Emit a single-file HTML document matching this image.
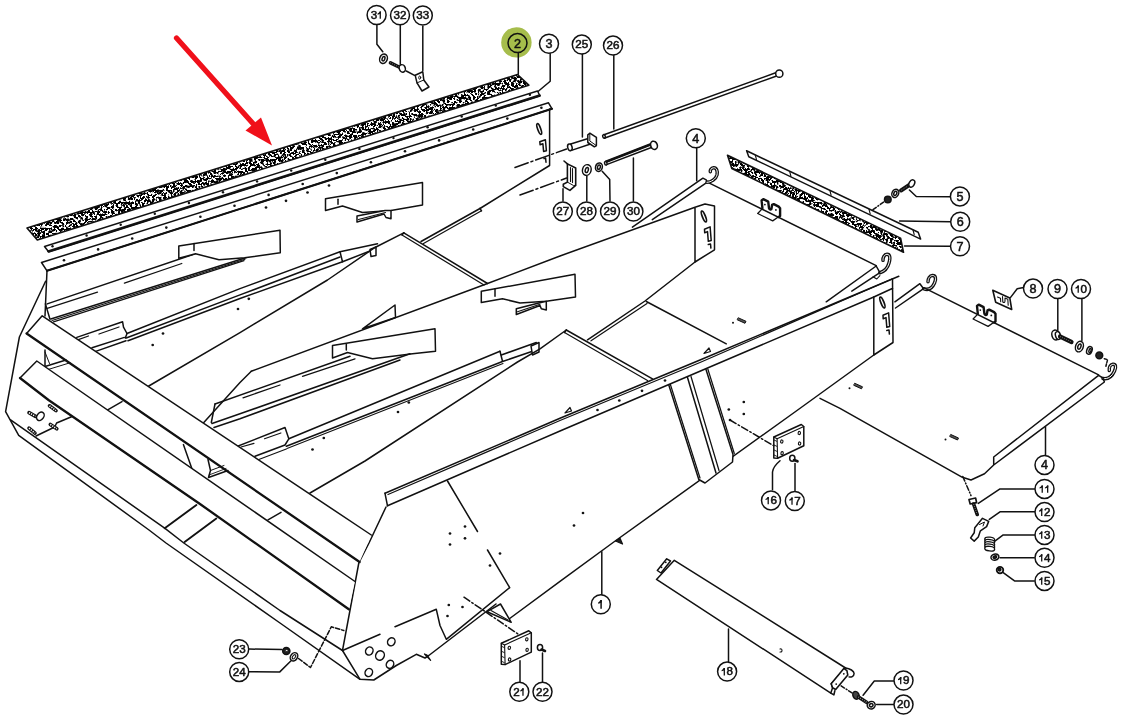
<!DOCTYPE html>
<html><head><meta charset="utf-8"><title>Parts diagram</title>
<style>
html,body{margin:0;padding:0;background:#fff;}
body{width:1121px;height:724px;overflow:hidden;font-family:"Liberation Sans",sans-serif;}
svg{display:block}
svg text{font-family:"Liberation Sans",sans-serif;fill:#111;stroke:#111;}
</style></head><body>
<svg width="1121" height="724" viewBox="0 0 1121 724">
<defs>
<filter id="spk" x="0" y="0" width="100%" height="100%">
<feTurbulence type="fractalNoise" baseFrequency="0.42" numOctaves="2" seed="7" result="n"/>
<feColorMatrix in="n" type="matrix" values="0 0 0 0 0  0 0 0 0 0  0 0 0 0 0  14 0 0 0 -6.25" result="m"/>
<feGaussianBlur in="m" stdDeviation="0.45" result="mb"/>
<feComposite in="mb" in2="SourceGraphic" operator="in"/>
</filter>
</defs>
<rect width="1121" height="724" fill="#fff"/>

<circle cx="516.4" cy="42.4" r="15.2" fill="#a6bd4c"/>
<g>
<line x1="176.5" y1="38" x2="256" y2="127" stroke="#f0101a" stroke-width="5.2" stroke-linecap="round"/>
<polygon points="272,145.5 245.5,130.5 261,117.5" fill="#f0101a"/>
</g>
<polygon points="27,228 517.5,74.5 528.8,85.2 37.3,240" fill="#222" filter="url(#spk)"/>
<polygon points="727.5,155.3 900.6,238.1 903.5,252.3 731.8,168.5" fill="#222" filter="url(#spk)"/>

<g fill="none" stroke="#111" stroke-width="1.5" stroke-linecap="round" stroke-linejoin="round">
<polygon points="27.0,228.0 517.5,74.5 528.8,85.2 37.3,240.0" fill="none" stroke-width="1.6" />
<polygon points="44.5,246.5 537.5,91.0 540.0,96.0 48.8,252.0" fill="none" />
<polyline points="48.3,251.3 539.7,95.4" stroke-width="2.3" />
<polygon points="41.5,262.5 548.5,102.8 552.0,108.8 47.0,270.8" fill="none" />
<polyline points="47.0,270.8 552.0,108.8" stroke-width="2.1" />
<circle cx="64.0" cy="260.3" r="1.3" fill="#111" stroke="none"/>
<circle cx="98.1" cy="249.4" r="1.3" fill="#111" stroke="none"/>
<circle cx="132.2" cy="238.5" r="1.3" fill="#111" stroke="none"/>
<circle cx="166.3" cy="227.6" r="1.3" fill="#111" stroke="none"/>
<circle cx="200.4" cy="216.7" r="1.3" fill="#111" stroke="none"/>
<circle cx="234.5" cy="205.8" r="1.3" fill="#111" stroke="none"/>
<circle cx="268.6" cy="194.9" r="1.3" fill="#111" stroke="none"/>
<circle cx="302.7" cy="184.0" r="1.3" fill="#111" stroke="none"/>
<circle cx="336.8" cy="173.1" r="1.3" fill="#111" stroke="none"/>
<circle cx="370.9" cy="162.2" r="1.3" fill="#111" stroke="none"/>
<circle cx="405.0" cy="151.3" r="1.3" fill="#111" stroke="none"/>
<circle cx="439.1" cy="140.4" r="1.3" fill="#111" stroke="none"/>
<circle cx="473.2" cy="129.5" r="1.3" fill="#111" stroke="none"/>
<circle cx="507.3" cy="118.6" r="1.3" fill="#111" stroke="none"/>
<circle cx="541.4" cy="107.7" r="1.3" fill="#111" stroke="none"/>
<circle cx="52.5" cy="246.3" r="1.2" fill="#111" stroke="none"/>
<circle cx="86.6" cy="235.5" r="1.2" fill="#111" stroke="none"/>
<circle cx="120.7" cy="224.7" r="1.2" fill="#111" stroke="none"/>
<circle cx="154.8" cy="213.8" r="1.2" fill="#111" stroke="none"/>
<circle cx="188.9" cy="203.0" r="1.2" fill="#111" stroke="none"/>
<circle cx="223.0" cy="192.2" r="1.2" fill="#111" stroke="none"/>
<circle cx="257.1" cy="181.4" r="1.2" fill="#111" stroke="none"/>
<circle cx="291.2" cy="170.6" r="1.2" fill="#111" stroke="none"/>
<circle cx="325.3" cy="159.7" r="1.2" fill="#111" stroke="none"/>
<circle cx="359.4" cy="148.9" r="1.2" fill="#111" stroke="none"/>
<circle cx="393.5" cy="138.1" r="1.2" fill="#111" stroke="none"/>
<circle cx="427.6" cy="127.3" r="1.2" fill="#111" stroke="none"/>
<circle cx="461.7" cy="116.5" r="1.2" fill="#111" stroke="none"/>
<circle cx="495.8" cy="105.6" r="1.2" fill="#111" stroke="none"/>
<circle cx="529.9" cy="94.8" r="1.2" fill="#111" stroke="none"/>
<polyline points="549.6,109.0 549.6,165.5 480.0,208.5" />
<circle cx="266.0" cy="207.5" r="1.35" fill="#111" stroke="none"/>
<circle cx="286.0" cy="200.8" r="1.35" fill="#111" stroke="none"/>
<circle cx="307.5" cy="192.5" r="1.35" fill="#111" stroke="none"/>
<circle cx="329.0" cy="185.5" r="1.35" fill="#111" stroke="none"/>
<ellipse cx="539.2" cy="129.0" rx="1.5" ry="5.6" transform="rotate(-20 539.2 129.0)" fill="none" stroke-width="1.7"/>
<path d="M539.8,141.8 l5.6,-2 l1,11 l-2.8,0.6 l-0.7,-7.6 l-2.8,1z" fill="none" stroke-width="1.5" />
<path d="M544,158.5 l1.6,-0.4 l0.4,4.2" fill="none" stroke-width="1.5" />
<polyline points="47.0,270.5 45.0,316.0" />
<polyline points="45.4,303.9 49.9,319.0" />
<polyline points="47.2,303.9 194.4,254.0" />
<polyline points="47.2,308.3 97.5,292.2" stroke-width="1.25" />
<polyline points="124.4,283.2 181.8,263.5" stroke-width="1.25" />
<polyline points="50.8,319.0 246.5,257.5" />
<polyline points="53.5,321.8 244.0,260.6" stroke-width="1.25" />
<polyline points="52.0,320.4 245.0,259.2" stroke-width="1.1" />
<polygon points="178.8,246.0 280.0,230.2 280.3,252.8 244.6,257.7 219.0,259.7 195.5,253.8 178.8,258.3" fill="#fff" />
<polyline points="194.0,243.5 194.0,250.5" />
<polygon points="325.5,198.8 422.5,182.5 422.5,205.0 391.0,210.5 362.5,212.5 342.5,206.0 325.5,210.5" fill="#fff" />
<polyline points="338.0,199.3 338.0,204.3" />
<polygon points="357.0,216.0 385.0,210.5 391.0,210.5 391.0,218.8 386.0,217.5 384.0,214.0 357.0,222.0" fill="#fff" />
<polyline points="358.5,219.5 385.5,212.5" stroke-width="1.15" />
<polyline points="76.8,337.4 122.6,321.8 123.5,327.2 127.0,333.5 125.3,338.0" />
<polyline points="77.7,339.8 88.5,336.0" stroke-width="1.25" />
<polyline points="99.0,334.0 119.0,327.0" stroke-width="1.25" />
<polyline points="92.0,347.8 124.4,337.4" />
<polyline points="95.7,351.4 126.0,340.7" />
<polyline points="127.0,333.5 240.0,288.6 340.0,251.8 377.5,243.8" />
<polyline points="126.2,338.0 240.0,294.9 340.0,257.0" />
<polyline points="128.0,340.7 240.0,298.5 342.5,261.8" />
<polyline points="340.0,251.8 342.5,261.8 372.5,250.0" />
<polygon points="370.0,249.5 376.0,247.0 376.0,255.5 371.0,256.5" fill="#fff" />
<circle cx="163.0" cy="333.5" r="1.35" fill="#111" stroke="none"/>
<circle cx="152.7" cy="345.0" r="1.35" fill="#111" stroke="none"/>
<circle cx="248.8" cy="298.8" r="1.35" fill="#111" stroke="none"/>
<circle cx="238.0" cy="309.0" r="1.35" fill="#111" stroke="none"/>
<polyline points="148.8,386.0 240.0,332.6 327.5,280.0 375.0,247.5 403.8,232.8" />
<polyline points="403.8,232.8 487.5,283.5" />
<polyline points="402.0,235.0 484.0,285.0" stroke-width="1.25" />
<polyline points="402.0,235.0 403.8,232.8" />
<polyline points="421.0,241.5 480.0,208.5" />
<polyline points="423.5,243.5 481.5,210.8" stroke-width="1.25" />
<polyline points="480.0,208.5 481.5,210.8" />
<polyline points="251.3,371.3 240.0,382.5 203.8,422.5" />
<polyline points="251.3,371.3 487.5,283.5 560.0,256.0 695.0,207.3 705.0,204.0 714.5,206.0 714.5,249.8 695.0,262.0 695.0,207.3" />
<polyline points="695.0,262.0 645.0,301.0 587.5,339.8" />
<polyline points="647.0,303.5 591.0,340.8" stroke-width="1.25" />
<polygon points="362.5,328.8 395.0,305.0 395.5,317.5" fill="none" />
<polygon points="332.5,345.5 435.0,328.8 435.5,351.3 412.5,353.8 372.5,358.8 347.5,352.5 332.5,358.0" fill="#fff" />
<polyline points="346.3,344.5 346.3,350.0" />
<polygon points="481.3,291.3 575.0,274.3 575.5,297.0 546.3,301.3 520.0,303.0 502.5,298.8 481.3,302.5" fill="#fff" />
<polyline points="495.0,288.8 495.0,296.3" />
<polygon points="516.3,308.8 538.8,303.0 546.3,301.3 546.3,310.0 541.3,308.8 540.0,305.5 516.3,314.5" fill="#fff" />
<polyline points="517.5,311.8 540.0,304.3" stroke-width="1.15" />
<polyline points="215.0,404.0 350.0,356.3" />
<polyline points="302.5,376.3 355.0,358.8" stroke-width="1.25" />
<polyline points="243.0,397.8 280.0,385.0" stroke-width="1.25" />
<polyline points="212.0,423.5 240.0,413.8 410.0,353.8" />
<polyline points="214.0,427.5 240.0,418.8 400.0,360.0" />
<polyline points="211.3,422.5 215.0,404.0" />
<polyline points="228.0,450.0 285.0,427.5 288.8,438.8 285.0,445.0 255.0,456.3" />
<polyline points="288.8,438.8 500.0,351.3" />
<polyline points="501.3,355.0 536.3,342.5" />
<polyline points="286.3,446.3 502.5,361.5 532.5,351.3" />
<polyline points="287.0,448.6 503.0,363.6" stroke-width="1.1" />
<polyline points="257.5,460.0 286.3,449.0" stroke-width="1.2" />
<polyline points="241.0,447.0 254.0,443.4" stroke-width="1.1" />
<polyline points="264.5,438.8 280.9,432.9" stroke-width="1.1" />
<polyline points="500.0,351.3 502.5,361.3" />
<polygon points="531.0,346.0 539.0,342.5 539.0,352.0 532.5,355.0" fill="#fff" />
<circle cx="408.8" cy="402.5" r="1.35" fill="#111" stroke="none"/>
<circle cx="398.0" cy="412.0" r="1.35" fill="#111" stroke="none"/>
<circle cx="323.8" cy="438.0" r="1.35" fill="#111" stroke="none"/>
<circle cx="312.5" cy="449.5" r="1.35" fill="#111" stroke="none"/>
<polyline points="310.0,493.0 365.0,461.0 517.5,362.0 540.0,348.8 566.3,330.0" />
<polyline points="566.3,330.0 652.5,378.8" />
<polyline points="564.5,332.5 647.5,380.5" stroke-width="1.25" />
<polyline points="564.5,332.5 566.3,330.0" />
<polyline points="646.3,301.5 726.3,343.8" />
<polyline points="385.0,493.3 560.0,418.3 700.0,360.0 898.8,276.3" />
<polyline points="388.0,494.5 560.0,420.5 700.0,362.5 892.5,278.8" stroke-width="1.25" />
<polyline points="387.5,505.8 560.0,431.0 873.8,297.0" />
<polyline points="385.0,493.3 387.5,505.8" />
<polyline points="892.5,278.8 893.0,342.5 873.8,355.0 873.8,297.0 892.8,288.2" />
<polyline points="873.8,355.0 796.3,411.0 613.8,542.0 560.0,581.3 509.7,618.5" />
<circle cx="597.5" cy="410.0" r="1.35" fill="#111" stroke="none"/>
<circle cx="619.3" cy="400.5" r="1.35" fill="#111" stroke="none"/>
<circle cx="642.0" cy="390.8" r="1.35" fill="#111" stroke="none"/>
<circle cx="665.0" cy="380.5" r="1.35" fill="#111" stroke="none"/>
<polygon points="565.0,413.0 570.0,407.5 571.5,411.0" fill="none" stroke-width="1.2" />
<polygon points="704.0,353.5 709.0,348.0 710.5,351.5" fill="none" stroke-width="1.2" />
<polygon points="615.5,541.0 622.5,544.0 620.0,538.3" fill="#222" stroke-width="1.25" />
<polygon points="669.5,386.0 698.8,479.5 705.0,483.0 732.5,462.0 733.0,454.5 706.5,371.0" fill="#fff" stroke="none"/>
<polyline points="668.8,385.0 698.8,479.5 705.0,483.0 732.5,462.0 733.0,454.5 706.0,369.5" />
<polyline points="670.3,384.3 700.0,478.0" stroke-width="1.25" />
<polyline points="687.5,377.5 716.0,473.0" />
<polyline points="691.0,376.5 719.0,470.5" stroke-width="1.25" />
<polyline points="707.8,369.0 734.3,453.5" stroke-width="1.25" />
<polyline points="386.0,507.0 369.0,543.0 358.8,563.0 342.5,650.5 360.0,679.3 373.8,680.0 396.3,665.5 416.3,654.3 425.0,658.0 428.8,655.5 496.0,604.0" />
<polyline points="447.5,481.0 477.5,531.5" />
<polyline points="487.5,550.0 509.7,587.6 446.3,639.3 440.0,625.5 436.3,609.3 395.0,626.8" />
<polyline points="342.5,650.5 380.0,634.3" />
<polygon points="487.0,611.7 500.5,604.0 511.2,622.3" fill="none" />
<polyline points="491.0,610.5 508.0,620.0" stroke-width="1.1" />
<polygon points="424.5,654.0 430.6,660.3 427.0,655.0" fill="#111" stroke-width="1.25" />
<circle cx="450.0" cy="533.5" r="1.35" fill="#111" stroke="none"/>
<circle cx="465.0" cy="526.5" r="1.35" fill="#111" stroke="none"/>
<circle cx="465.0" cy="538.3" r="1.35" fill="#111" stroke="none"/>
<circle cx="450.0" cy="544.5" r="1.35" fill="#111" stroke="none"/>
<circle cx="728.8" cy="409.5" r="1.35" fill="#111" stroke="none"/>
<circle cx="743.8" cy="402.0" r="1.35" fill="#111" stroke="none"/>
<circle cx="743.8" cy="414.0" r="1.35" fill="#111" stroke="none"/>
<circle cx="730.0" cy="420.0" r="1.35" fill="#111" stroke="none"/>
<circle cx="448.8" cy="605.0" r="1.35" fill="#111" stroke="none"/>
<circle cx="447.5" cy="616.0" r="1.35" fill="#111" stroke="none"/>
<circle cx="462.5" cy="607.0" r="1.35" fill="#111" stroke="none"/>
<circle cx="490.0" cy="565.5" r="1.35" fill="#111" stroke="none"/>
<circle cx="500.0" cy="553.5" r="1.35" fill="#111" stroke="none"/>
<circle cx="583.0" cy="513.0" r="1.35" fill="#111" stroke="none"/>
<circle cx="574.0" cy="525.5" r="1.35" fill="#111" stroke="none"/>
<ellipse cx="369.3" cy="651.0" rx="3.6" ry="4.14" transform="rotate(30 369.3 651.0)" fill="none"/>
<ellipse cx="391.3" cy="641.8" rx="3.6" ry="4.14" transform="rotate(30 391.3 641.8)" fill="none"/>
<ellipse cx="390.0" cy="664.3" rx="3.6" ry="4.14" transform="rotate(30 390.0 664.3)" fill="none"/>
<ellipse cx="368.8" cy="672.5" rx="3.6" ry="4.14" transform="rotate(30 368.8 672.5)" fill="none"/>
<ellipse cx="380.0" cy="655.5" rx="4.2" ry="4.83" transform="rotate(30 380.0 655.5)" fill="none"/>
<polygon points="42.2,315.8 371.3,535.0 359.6,562.0 26.6,333.5" fill="#fff" stroke="none"/>
<polyline points="26.6,333.5 42.2,315.8 371.3,535.0" />
<polyline points="45.0,366.5 66.0,360.0" />
<polyline points="46.5,370.0 70.0,362.8" stroke-width="1" />
<polyline points="45.0,350.0 45.0,368.5" />
<polyline points="45.0,352.0 49.5,363.5" stroke-width="1" />
<polyline points="183.4,444.6 192.0,469.0" />
<polyline points="208.0,459.5 210.5,470.5 208.5,477.5 228.0,470.5" />
<polyline points="210.5,470.5 224.0,465.5" stroke-width="1" />
<polyline points="209.0,475.0 226.0,468.5" stroke-width="0.9" />
<polyline points="107.7,409.8 122.0,401.6" />
<polyline points="268.0,519.8 281.0,512.3" />
<polyline points="26.6,333.5 359.6,562.0" stroke-width="2.3" />
<polygon points="36.8,361.0 355.0,581.5 348.8,609.3 20.0,378.0" fill="#fff" stroke="none"/>
<polyline points="20.0,378.0 36.8,361.0 355.0,581.5" />
<polyline points="20.0,378.0 48.5,400.0 200.0,504.0 348.8,609.3" stroke-width="2.3" />
<polyline points="45.6,281.2 19.4,337.0 5.6,411.7 18.7,435.3 149.0,530.0 166.0,543.0 280.0,623.0 360.0,679.3" />
<polyline points="10.6,419.8 165.0,528.4 183.8,543.0 280.0,610.5 342.5,650.5" />
<polyline points="36.0,436.0 54.7,427.0 56.6,423.0 71.5,416.7" />
<polyline points="164.7,528.2 196.4,505.0" stroke-width="1.9" />
<polyline points="184.6,542.0 216.3,518.6" stroke-width="1.9" />
<polyline points="49.5,405.8 56.0,410.6" stroke-width="3.6" />
<polyline points="49.5,405.8 56.0,410.6" stroke-width="1.6" stroke="#fff" stroke-dasharray="1.2 1.2" stroke-linecap="butt"/>
<polyline points="29.0,412.6 35.5,416.4" stroke-width="3.6" />
<polyline points="29.0,412.6 35.5,416.4" stroke-width="1.6" stroke="#fff" stroke-dasharray="1.2 1.2" stroke-linecap="butt"/>
<polyline points="50.3,424.4 56.8,428.8" stroke-width="3.6" />
<polyline points="50.3,424.4 56.8,428.8" stroke-width="1.6" stroke="#fff" stroke-dasharray="1.2 1.2" stroke-linecap="butt"/>
<polyline points="29.0,428.2 35.0,433.2" stroke-width="3.6" />
<polyline points="29.0,428.2 35.0,433.2" stroke-width="1.6" stroke="#fff" stroke-dasharray="1.2 1.2" stroke-linecap="butt"/>
<ellipse cx="40.4" cy="416.3" rx="3.3" ry="4.6" transform="rotate(35 40.4 416.3)" fill="#fff"/>
<polyline points="632.4,227.1 702.9,178.2 706.2,179.8 707.0,182.3 652.3,219.6" />
<polyline points="707.9,182.3 876.2,265.6" />
<path d="M707,182.3 C711,182.3 716,179 717,174.9 C717.8,171 716.5,167.5 713.5,167.8 C711.2,168 710,170 710.3,171.8" fill="none" stroke-width="3.5" stroke="#111"/>
<path d="M707,182.3 C711,182.3 716,179 717,174.9 C717.8,171 716.5,167.5 713.5,167.8 C711.2,168 710,170 710.3,171.8" fill="none" stroke-width="1.0" stroke="#fff"/>
<path d="M879.9,272.7 C884,271.5 887.5,268.5 889,263 C890.5,258 890,254.2 887,254.3 C884.3,254.4 882.8,257.5 883,260.3" fill="none" stroke-width="3.5" stroke="#111"/>
<path d="M879.9,272.7 C884,271.5 887.5,268.5 889,263 C890.5,258 890,254.2 887,254.3 C884.3,254.4 882.8,257.5 883,260.3" fill="none" stroke-width="1.0" stroke="#fff"/>
<path d="M923.6,288.7 C928,290.5 932,288.5 934.5,283 C936.5,278.5 935.5,275.3 932.4,275.5 C929.8,275.7 928,278.5 928,281.8" fill="none" stroke-width="3.5" stroke="#111"/>
<path d="M923.6,288.7 C928,290.5 932,288.5 934.5,283 C936.5,278.5 935.5,275.3 932.4,275.5 C929.8,275.7 928,278.5 928,281.8" fill="none" stroke-width="1.0" stroke="#fff"/>
<path d="M1103,378.5 C1108,379.5 1112,376.5 1114.5,371 C1116.5,366.5 1115.5,364 1112.8,364.3 C1110.2,364.6 1109,367.5 1109.3,370.5" fill="none" stroke-width="3.5" stroke="#111"/>
<path d="M1103,378.5 C1108,379.5 1112,376.5 1114.5,371 C1116.5,366.5 1115.5,364 1112.8,364.3 C1110.2,364.6 1109,367.5 1109.3,370.5" fill="none" stroke-width="1.0" stroke="#fff"/>
<polyline points="826.2,301.8 876.2,266.0 879.9,272.7 851.8,291.2" />
<polyline points="873.0,276.8 876.8,279.0 879.9,275.6" stroke-width="1.1" />
<path d="M762.4,208.6 l-4.7,4.9 l15,7.4 l5.5,-3.9" fill="none" stroke-width="1.3" />
<path d="M762.4,208.2 L761.6,200.5 L763.3,199.1 L768.2,201.6 L769.0,208.1 Q770.1,210.3 771.4,209.1 L772.1,204.9 L773.8,204.1 L778.7,206.6 L780.1,208.2 L780.1,216.0 L778.7,217.0" fill="none" stroke-width="2.4" />
<circle cx="764.9" cy="204.6" r="0.9" fill="#111" stroke="none"/>
<circle cx="775.9" cy="209.9" r="0.9" fill="#111" stroke="none"/>
<path d="M977.8,314.1 l-4.7,4.9 l15,7.4 l5.5,-3.9" fill="none" stroke-width="1.3" />
<path d="M977.8,313.7 L977.0,306.0 L978.7,304.6 L983.6,307.1 L984.4,313.6 Q985.5,315.8 986.8,314.6 L987.5,310.4 L989.2,309.6 L994.1,312.1 L995.5,313.7 L995.5,321.5 L994.1,322.5" fill="none" stroke-width="2.4" />
<circle cx="980.3" cy="310.1" r="0.9" fill="#111" stroke="none"/>
<circle cx="991.3" cy="315.4" r="0.9" fill="#111" stroke="none"/>
<polygon points="738.5,317.9 746.0,321.3 745.0,323.3 737.5,319.9" fill="#555" stroke-width="1.0" />
<circle cx="733.0" cy="322.7" r="1.0" fill="#111" stroke="none"/>
<polygon points="855.0,383.4 862.5,386.8 861.5,388.8 854.0,385.4" fill="#555" stroke-width="1.0" />
<circle cx="849.5" cy="388.2" r="1.0" fill="#111" stroke="none"/>
<polygon points="951.0,434.6 958.5,438.0 957.5,440.0 950.0,436.6" fill="#555" stroke-width="1.0" />
<circle cx="945.5" cy="439.4" r="1.0" fill="#111" stroke="none"/>
<ellipse cx="703.9" cy="216.5" rx="1.5" ry="5.8" transform="rotate(-22 703.9 216.5)" fill="none" stroke-width="1.7"/>
<path d="M704.5,229.3 l5.6,-2.4 l1.1,13.6 l-2.9,0.7 l-0.8,-9.6 l-2.8,1.1z" fill="none" stroke-width="1.5" />
<path d="M708.3,244.5 l2.2,-0.6 l0.4,4.2" fill="none" stroke-width="1.5" />
<ellipse cx="882.4" cy="302.5" rx="1.5" ry="5.8" transform="rotate(-22 882.4 302.5)" fill="none" stroke-width="1.7"/>
<path d="M883.0,315.3 l5.6,-2.4 l1.1,13.6 l-2.9,0.7 l-0.8,-9.6 l-2.8,1.1z" fill="none" stroke-width="1.5" />
<path d="M886.8,330.5 l2.2,-0.6 l0.4,4.2" fill="none" stroke-width="1.5" />
<polygon points="746.6,150.8 918.2,232.2 920.6,239.1 748.8,156.7" fill="#fff" />
<polyline points="755.3,155.2 756.5,159.7" stroke-width="1.1" />
<polyline points="789.7,171.6 790.9,176.1" stroke-width="1.1" />
<polyline points="829.9,190.7 831.1,195.2" stroke-width="1.1" />
<polyline points="869.0,209.3 870.2,213.8" stroke-width="1.1" />
<polyline points="913.0,230.0 914.2,234.5" stroke-width="1.1" />
<polygon points="727.5,155.3 900.6,238.1 903.5,252.3 731.8,168.5" fill="none" stroke-width="1.6" />
<polyline points="873.0,209.7 883.9,201.8" stroke-dasharray="4 2 1 2"/>
<circle cx="887.8" cy="199.5" r="3.3" fill="#222"/>
<ellipse cx="895.3" cy="193.4" rx="3.3" ry="4.3" transform="rotate(25 895.3 193.4)" fill="none"/>
<ellipse cx="895.3" cy="193.4" rx="1.4" ry="2.2" transform="rotate(25 895.3 193.4)" fill="none"/>
<polyline points="901.0,190.5 910.0,184.5" stroke-width="4" />
<polyline points="901.0,190.5 910.0,184.5" stroke-width="0.8" stroke="#ddd" stroke-dasharray="0.6 1.6" stroke-linecap="butt"/>
<ellipse cx="911.8" cy="183.5" rx="2.6" ry="3.8" transform="rotate(30 911.8 183.5)" fill="#fff"/>
<polyline points="909.4,190.0 916.3,196.5 950.0,196.8" />
<polyline points="899.6,221.0 950.5,221.8" />
<polyline points="904.5,246.0 950.0,246.3" />
<polyline points="894.9,301.8 919.9,283.7 923.6,288.7 895.5,308.0" />
<polyline points="924.7,288.2 1098.6,374.8" />
<polyline points="820.0,398.3 840.0,408.3 962.4,477.3 971.0,480.0 984.5,473.8 993.7,465.0 993.7,457.0 1098.6,375.3 1103.0,378.0 1104.4,382.0 993.7,465.0" />
<polyline points="1045.5,426.8 1045.5,455.0" />
<polygon points="992.8,290.2 1009.8,297.9 1011.7,309.5 995.7,302.3" fill="#fff" stroke-width="1.6" />
<path d="M997.5,297 l3,1.3 l0.2,3.5 M1002.5,296.5 l0.3,5.5 q2,1.5 2.2,-1 l0,-3 l2.8,1.2 l0.4,6" fill="none" stroke-width="1.1" />
<polyline points="1010.6,297.4 1017.2,288.8 1023.5,287.6" />
<polyline points="1057.8,298.5 1057.8,330.5" />
<ellipse cx="1055.5" cy="335.0" rx="3.6" ry="5" transform="rotate(-15 1055.5 335.0)" fill="#fff"/>
<ellipse cx="1058.0" cy="335.5" rx="2.5" ry="4" transform="rotate(-15 1058.0 335.5)" fill="#fff"/>
<polyline points="1060.0,336.5 1071.5,342.0" stroke-width="4.2" />
<polyline points="1060.0,336.5 1071.5,342.0" stroke-width="0.8" stroke="#ddd" stroke-dasharray="0.6 1.6" stroke-linecap="butt"/>
<polyline points="1081.9,298.5 1081.9,340.5" />
<ellipse cx="1079.4" cy="346.6" rx="3.8" ry="5.4" transform="rotate(20 1079.4 346.6)" fill="none"/>
<ellipse cx="1079.4" cy="346.6" rx="1.5" ry="2.7" transform="rotate(20 1079.4 346.6)" fill="none"/>
<ellipse cx="1089.4" cy="350.4" rx="2.6" ry="4" transform="rotate(20 1089.4 350.4)" fill="none"/>
<ellipse cx="1090.0" cy="350.6" rx="1" ry="2.2" transform="rotate(20 1090.0 350.6)" fill="none"/>
<circle cx="1099.3" cy="355.4" r="3.4" fill="#222"/>
<polyline points="1104.3,358.7 1107.6,359.6 1105.9,366.2" stroke-dasharray="2.5 1.5"/>
<polyline points="962.8,476.5 971.0,495.6" stroke-dasharray="5 2 1 2"/>
<polygon points="969.0,499.5 975.6,498.0 976.6,502.6 970.2,504.0" fill="#fff" stroke-width="1.7" />
<polyline points="973.6,504.0 977.2,514.5" stroke-width="3.6" />
<polyline points="973.6,504.0 977.2,514.5" stroke-width="0.8" stroke="#ddd" stroke-dasharray="0.6 1.6" stroke-linecap="butt"/>
<polyline points="1034.5,488.9 1000.0,488.9 978.3,503.4" />
<polygon points="982.5,518.3 988.7,521.4 986.6,526.6 980.4,530.8 978.3,537.0 974.2,541.1 970.6,538.0 974.2,532.8 974.8,527.7" fill="#fff" stroke-width="1.5" />
<polyline points="979.5,524.5 984.5,522.0 983.0,526.0" stroke-width="1" />
<polyline points="1034.5,511.8 1000.0,511.8 989.3,519.4" />
<ellipse cx="989.7" cy="539.5" rx="5" ry="2.3" transform="rotate(8 989.7 539.5)" fill="#fff" stroke-width="1.3"/>
<ellipse cx="989.7" cy="541.8" rx="5" ry="2.3" transform="rotate(8 989.7 541.8)" fill="#fff" stroke-width="1.3"/>
<ellipse cx="989.7" cy="544.1" rx="5" ry="2.3" transform="rotate(8 989.7 544.1)" fill="#fff" stroke-width="1.3"/>
<ellipse cx="989.7" cy="546.4" rx="5" ry="2.3" transform="rotate(8 989.7 546.4)" fill="#fff" stroke-width="1.3"/>
<ellipse cx="989.7" cy="548.7" rx="5" ry="2.3" transform="rotate(8 989.7 548.7)" fill="#fff" stroke-width="1.3"/>
<polyline points="1034.5,534.9 1003.2,534.9 994.9,541.1" />
<ellipse cx="994.9" cy="557.1" rx="4" ry="3" transform="rotate(-15 994.9 557.1)" fill="#fff"/>
<ellipse cx="994.9" cy="557.1" rx="1.8" ry="1.2" transform="rotate(-15 994.9 557.1)" fill="#222"/>
<polyline points="1000.0,557.7 1034.2,557.7" />
<circle cx="1000.0" cy="570.1" r="3.3" fill="#fff" stroke-width="1.8"/>
<circle cx="999.6" cy="569.6" r="1.3" fill="#222"/>
<polyline points="1003.2,572.6 1014.5,580.9 1034.2,580.9" />
<polygon points="773.8,437.0 801.3,424.5 803.8,426.5 803.8,445.8 777.6,458.3 773.8,458.0" fill="#fff" stroke-width="1.5" />
<polyline points="773.8,437.0 777.1,438.7 803.8,426.5" stroke-width="1.1" />
<polyline points="777.1,438.7 777.6,458.3" stroke-width="1.1" />
<ellipse cx="781.8" cy="441.5" rx="1.2" ry="1.6" transform="rotate(10 781.8 441.5)" fill="none" stroke-width="1.1"/>
<ellipse cx="799.3" cy="433.0" rx="1.2" ry="1.6" transform="rotate(10 799.3 433.0)" fill="none" stroke-width="1.1"/>
<ellipse cx="782.1" cy="453.2" rx="1.2" ry="1.6" transform="rotate(10 782.1 453.2)" fill="none" stroke-width="1.1"/>
<ellipse cx="799.6" cy="443.5" rx="1.2" ry="1.6" transform="rotate(10 799.6 443.5)" fill="none" stroke-width="1.1"/>
<polyline points="774.1,440.0 776.8,441.3" stroke-width="0.9" />
<polyline points="774.1,445.0 776.8,446.3" stroke-width="0.9" />
<polyline points="774.1,450.0 776.8,451.3" stroke-width="0.9" />
<polyline points="774.1,455.0 776.8,456.3" stroke-width="0.9" />
<polyline points="730.0,420.0 773.8,445.8" stroke-dasharray="7 2.5 1.5 2.5"/>
<path d="M780,460.8 q-7,6 -7.5,11.2 L772.5,489.8" fill="none" />
<polyline points="795.0,463.5 795.0,490.5" />
<ellipse cx="792.3" cy="458.3" rx="2.6" ry="3" transform="rotate(0 792.3 458.3)" fill="#fff" stroke-width="1.5"/>
<polyline points="794.0,460.0 797.5,461.3" stroke-width="2.6" />
<polygon points="501.3,643.3 528.8,630.8 531.3,632.8 531.3,652.1 505.1,664.6 501.3,664.3" fill="#fff" stroke-width="1.5" />
<polyline points="501.3,643.3 504.6,645.0 531.3,632.8" stroke-width="1.1" />
<polyline points="504.6,645.0 505.1,664.6" stroke-width="1.1" />
<ellipse cx="509.3" cy="647.8" rx="1.2" ry="1.6" transform="rotate(10 509.3 647.8)" fill="none" stroke-width="1.1"/>
<ellipse cx="526.8" cy="639.3" rx="1.2" ry="1.6" transform="rotate(10 526.8 639.3)" fill="none" stroke-width="1.1"/>
<ellipse cx="509.6" cy="659.5" rx="1.2" ry="1.6" transform="rotate(10 509.6 659.5)" fill="none" stroke-width="1.1"/>
<ellipse cx="527.1" cy="649.8" rx="1.2" ry="1.6" transform="rotate(10 527.1 649.8)" fill="none" stroke-width="1.1"/>
<polyline points="501.6,646.3 504.3,647.6" stroke-width="0.9" />
<polyline points="501.6,651.3 504.3,652.6" stroke-width="0.9" />
<polyline points="501.6,656.3 504.3,657.6" stroke-width="0.9" />
<polyline points="501.6,661.3 504.3,662.6" stroke-width="0.9" />
<polyline points="464.0,597.2 518.8,634.5" stroke-dasharray="7 2.5 1.5 2.5"/>
<polyline points="520.0,660.8 520.0,682.0" />
<polyline points="542.5,653.0 542.5,682.0" />
<ellipse cx="540.0" cy="647.5" rx="2.6" ry="3" transform="rotate(0 540.0 647.5)" fill="#fff" stroke-width="1.5"/>
<polyline points="541.5,649.5 545.0,651.0" stroke-width="2.6" />
<polyline points="249.0,649.0 282.0,649.6" />
<polyline points="249.0,671.8 279.8,671.9 290.8,661.0" />
<circle cx="286.3" cy="651.0" r="3.6" fill="#222" stroke-width="1.5"/>
<ellipse cx="286.6" cy="650.6" rx="1.6" ry="1.0" transform="rotate(-30 286.6 650.6)" fill="#fff" stroke-width="0.8"/>
<ellipse cx="294.0" cy="656.8" rx="3.4" ry="4.4" transform="rotate(35 294.0 656.8)" fill="#fff"/>
<ellipse cx="294.0" cy="656.8" rx="1.3" ry="2.4" transform="rotate(35 294.0 656.8)" fill="none" stroke-width="1.1"/>
<polyline points="298.5,658.5 310.5,667.5 331.3,626.8 343.8,630.5" stroke-dasharray="4.5 2"/>
<polyline points="601.8,551.8 601.8,594.5" />
<polygon points="657.3,570.5 666.7,558.8 670.5,561.0 661.0,573.0" fill="#fff" />
<circle cx="661.5" cy="567.3" r="0.9" fill="#111" stroke="none"/>
<circle cx="665.8" cy="562.3" r="0.9" fill="#111" stroke="none"/>
<polygon points="674.3,560.3 845.6,668.0 831.2,683.7 832.6,687.7 830.8,693.1 656.5,579.4" fill="#fff" />
<path d="M845.6,668 C850,668.5 854,671 854.1,673.5 C854,676.5 851,677.5 849,676.9" fill="#fff" />
<polygon points="843.8,668.4 846.9,670.6 847.8,675.1 835.7,689.5 832.6,687.7 831.2,683.7" fill="#fff" stroke-width="1.6" />
<circle cx="843.8" cy="673.8" r="0.9" fill="#111" stroke="none"/>
<circle cx="836.2" cy="684.1" r="0.9" fill="#111" stroke="none"/>
<polyline points="830.8,693.1 833.9,694.9 834.8,690.8" stroke-width="1.6" />
<path d="M780,649 q2,-0.5 2,1.5 q0,1.8 -2,1.5" fill="none" stroke-width="1.1" />
<polyline points="728.5,629.0 728.5,662.0" />
<polyline points="841.1,685.9 852.3,693.1" stroke-dasharray="4 2 1 2"/>
<ellipse cx="856.0" cy="695.3" rx="3" ry="4" transform="rotate(-25 856.0 695.3)" fill="#444" stroke-width="1.5"/>
<polyline points="858.5,697.0 866.5,702.3" stroke-width="3.6" />
<polyline points="858.5,697.0 866.5,702.3" stroke-width="1.2" stroke="#ddd" stroke-dasharray="0.6 1.6" stroke-linecap="butt"/>
<polyline points="893.5,681.0 874.3,681.0 863.1,695.3" />
<ellipse cx="871.2" cy="705.2" rx="4" ry="3.7" transform="rotate(-20 871.2 705.2)" fill="#fff"/>
<ellipse cx="871.2" cy="705.2" rx="1.8" ry="1.6" transform="rotate(-20 871.2 705.2)" fill="none"/>
<polyline points="876.6,704.5 894.0,704.5" />
<polyline points="376.9,25.0 376.9,44.2 382.8,51.8" />
<ellipse cx="383.5" cy="58.7" rx="3.8" ry="4.8" transform="rotate(20 383.5 58.7)" fill="#fff"/>
<ellipse cx="383.5" cy="58.7" rx="1.3" ry="2.3" transform="rotate(20 383.5 58.7)" fill="none"/>
<polyline points="400.3,25.5 400.3,64.2" />
<polyline points="390.5,62.8 400.0,67.5" stroke-width="3.6" />
<polyline points="390.5,62.8 400.0,67.5" stroke-width="0.8" stroke="#ddd" stroke-dasharray="0.6 1.6" stroke-linecap="butt"/>
<ellipse cx="402.3" cy="68.4" rx="3" ry="3.8" transform="rotate(-20 402.3 68.4)" fill="#fff"/>
<polyline points="422.8,26.2 422.8,70.4" />
<polyline points="406.3,71.0 414.5,75.3" />
<polygon points="415.2,75.3 422.8,71.8 423.8,80.0 429.0,87.0 422.0,91.0 417.0,82.9" fill="#fff" />
<polyline points="417.0,82.9 423.8,80.0" stroke-width="1" />
<ellipse cx="419.7" cy="77.6" rx="1" ry="1.6" transform="rotate(0 419.7 77.6)" fill="none" stroke-width="1"/>
<polyline points="518.3,52.5 518.3,74.3" />
<path d="M550.2,53.3 L550.2,81.2 L538.3,91.3" fill="none" />
<polyline points="582.4,54.2 582.4,137.0" />
<polyline points="613.8,55.5 613.8,129.0" />
<polyline points="604.0,134.8 777.0,72.3" />
<polyline points="604.8,138.0 778.0,75.5" />
<ellipse cx="604.0" cy="136.4" rx="1.3" ry="1.9" transform="rotate(-20 604.0 136.4)" fill="none"/>
<circle cx="779.3" cy="73.7" r="3.6" fill="#fff" stroke-width="1.5"/>
<polygon points="570.7,144.0 589.0,138.2 589.8,144.2 570.7,150.6" fill="#fff" />
<ellipse cx="569.9" cy="147.3" rx="2.2" ry="3.4" transform="rotate(-15 569.9 147.3)" fill="#fff"/>
<polygon points="587.8,134.9 589.8,133.2 596.4,137.3 596.4,145.6 594.4,146.8 587.8,142.5" fill="#fff" stroke-width="1.5" />
<polyline points="589.8,133.2 589.8,141.0 596.4,145.6" stroke-width="1" />
<polyline points="606.0,161.8 651.0,144.3" />
<polyline points="606.5,164.6 652.0,147.3" />
<polyline points="606.0,161.8 651.0,144.3" stroke-width="2.8" />
<ellipse cx="605.8" cy="163.3" rx="1.2" ry="1.8" transform="rotate(-20 605.8 163.3)" fill="#fff"/>
<ellipse cx="654.0" cy="145.3" rx="3.3" ry="4.2" transform="rotate(-20 654.0 145.3)" fill="#fff" stroke-width="1.6"/>
<ellipse cx="586.8" cy="170.0" rx="4.3" ry="5.4" transform="rotate(15 586.8 170.0)" fill="#fff"/>
<ellipse cx="586.8" cy="170.0" rx="1.5" ry="2.6" transform="rotate(15 586.8 170.0)" fill="none"/>
<ellipse cx="598.9" cy="167.2" rx="3.4" ry="4.3" transform="rotate(15 598.9 167.2)" fill="#fff"/>
<ellipse cx="598.9" cy="167.2" rx="1.4" ry="2.2" transform="rotate(15 598.9 167.2)" fill="none"/>
<polyline points="563.0,188.7 563.0,201.0" />
<polyline points="586.8,176.3 586.8,201.0" />
<polyline points="602.2,171.3 609.7,179.6 610.0,201.0" />
<polyline points="633.4,158.0 633.4,201.0" />
<polygon points="567.4,163.9 575.7,168.0 575.7,185.4 569.9,190.4 563.3,186.6 563.3,184.3 567.4,182.1" fill="#fff" stroke-width="1.6" />
<polyline points="564.0,161.0 567.4,163.9" stroke-width="1.6" />
<polyline points="567.4,182.1 573.5,185.5 575.7,185.4" stroke-width="1" />
<path d="M570.5,167.5 l0,14 M572.5,168.5 l0,14" fill="none" stroke-width="1.1" />
<polyline points="515.0,167.5 566.6,149.0" stroke-dasharray="14 3 2 3"/>
<polyline points="520.0,195.0 566.6,178.0" stroke-dasharray="14 3 2 3"/>
<polyline points="696.7,148.0 696.7,180.7" />
</g>
<g style="will-change:opacity;opacity:0.995">
<circle cx="376.6" cy="15" r="9.5" fill="#fff" stroke="#111" stroke-width="1.5"/>
<text transform="translate(373.88,18.85) scale(1.13,1)" text-anchor="middle" font-size="10.3" stroke-width="0.5">3</text>
<path d="M380.28,18.85 L380.28,11.48" stroke="#111" stroke-width="1.29" fill="none" stroke-linecap="butt"/><path d="M380.92,11.48 L379.74,11.48 Q378.88,13.12 377.56,13.59 L377.56,14.67 Q379.35,14.26 380.92,13.23 Z" fill="#111" stroke="none"/>
<circle cx="400" cy="15.2" r="9.5" fill="#fff" stroke="#111" stroke-width="1.5"/>
<text transform="translate(396.76,19.05) scale(1.13,1)" text-anchor="middle" font-size="10.3" stroke-width="0.5">3</text>
<text transform="translate(403.24,19.05) scale(1.13,1)" text-anchor="middle" font-size="10.3" stroke-width="0.5">2</text>
<circle cx="422.8" cy="15.5" r="9.5" fill="#fff" stroke="#111" stroke-width="1.5"/>
<text transform="translate(419.56,19.35) scale(1.13,1)" text-anchor="middle" font-size="10.3" stroke-width="0.5">3</text>
<text transform="translate(426.04,19.35) scale(1.13,1)" text-anchor="middle" font-size="10.3" stroke-width="0.5">3</text>
<circle cx="517.5" cy="43.1" r="9.5" fill="#a6bd4c" stroke="#111" stroke-width="1.5"/>
<text transform="translate(517.50,47.50) scale(1.05,1)" text-anchor="middle" font-size="12.0" stroke-width="0.5">2</text>
<circle cx="549" cy="43.7" r="9.5" fill="#fff" stroke="#111" stroke-width="1.5"/>
<text transform="translate(549.00,48.10) scale(1.05,1)" text-anchor="middle" font-size="12.0" stroke-width="0.5">3</text>
<circle cx="581.8" cy="44.6" r="9.5" fill="#fff" stroke="#111" stroke-width="1.5"/>
<text transform="translate(578.56,48.45) scale(1.13,1)" text-anchor="middle" font-size="10.3" stroke-width="0.5">2</text>
<text transform="translate(585.04,48.45) scale(1.13,1)" text-anchor="middle" font-size="10.3" stroke-width="0.5">5</text>
<circle cx="613" cy="45.6" r="9.5" fill="#fff" stroke="#111" stroke-width="1.5"/>
<text transform="translate(609.76,49.45) scale(1.13,1)" text-anchor="middle" font-size="10.3" stroke-width="0.5">2</text>
<text transform="translate(616.24,49.45) scale(1.13,1)" text-anchor="middle" font-size="10.3" stroke-width="0.5">6</text>
<circle cx="695.8" cy="138.3" r="9.5" fill="#fff" stroke="#111" stroke-width="1.5"/>
<text transform="translate(695.80,142.70) scale(1.05,1)" text-anchor="middle" font-size="12.0" stroke-width="0.5">4</text>
<circle cx="562.8" cy="211.4" r="9.5" fill="#fff" stroke="#111" stroke-width="1.5"/>
<text transform="translate(559.56,215.25) scale(1.13,1)" text-anchor="middle" font-size="10.3" stroke-width="0.5">2</text>
<text transform="translate(566.04,215.25) scale(1.13,1)" text-anchor="middle" font-size="10.3" stroke-width="0.5">7</text>
<circle cx="586.5" cy="211.4" r="9.5" fill="#fff" stroke="#111" stroke-width="1.5"/>
<text transform="translate(583.26,215.25) scale(1.13,1)" text-anchor="middle" font-size="10.3" stroke-width="0.5">2</text>
<text transform="translate(589.74,215.25) scale(1.13,1)" text-anchor="middle" font-size="10.3" stroke-width="0.5">8</text>
<circle cx="610" cy="211.4" r="9.5" fill="#fff" stroke="#111" stroke-width="1.5"/>
<text transform="translate(606.76,215.25) scale(1.13,1)" text-anchor="middle" font-size="10.3" stroke-width="0.5">2</text>
<text transform="translate(613.24,215.25) scale(1.13,1)" text-anchor="middle" font-size="10.3" stroke-width="0.5">9</text>
<circle cx="633.4" cy="211.6" r="9.5" fill="#fff" stroke="#111" stroke-width="1.5"/>
<text transform="translate(630.16,215.45) scale(1.13,1)" text-anchor="middle" font-size="10.3" stroke-width="0.5">3</text>
<text transform="translate(636.64,215.45) scale(1.13,1)" text-anchor="middle" font-size="10.3" stroke-width="0.5">0</text>
<circle cx="959.9" cy="196.4" r="9.5" fill="#fff" stroke="#111" stroke-width="1.5"/>
<text transform="translate(959.90,200.80) scale(1.05,1)" text-anchor="middle" font-size="12.0" stroke-width="0.5">5</text>
<circle cx="960.2" cy="221.8" r="9.5" fill="#fff" stroke="#111" stroke-width="1.5"/>
<text transform="translate(960.20,226.20) scale(1.05,1)" text-anchor="middle" font-size="12.0" stroke-width="0.5">6</text>
<circle cx="960" cy="246.3" r="9.5" fill="#fff" stroke="#111" stroke-width="1.5"/>
<text transform="translate(960.00,250.70) scale(1.05,1)" text-anchor="middle" font-size="12.0" stroke-width="0.5">7</text>
<circle cx="1033" cy="288.6" r="9.5" fill="#fff" stroke="#111" stroke-width="1.5"/>
<text transform="translate(1033.00,293.00) scale(1.05,1)" text-anchor="middle" font-size="12.0" stroke-width="0.5">8</text>
<circle cx="1057.5" cy="289" r="9.5" fill="#fff" stroke="#111" stroke-width="1.5"/>
<text transform="translate(1057.50,293.40) scale(1.05,1)" text-anchor="middle" font-size="12.0" stroke-width="0.5">9</text>
<circle cx="1081" cy="289" r="9.5" fill="#fff" stroke="#111" stroke-width="1.5"/>
<path d="M1078.21,292.85 L1078.21,285.48" stroke="#111" stroke-width="1.29" fill="none" stroke-linecap="butt"/><path d="M1078.85,285.48 L1077.66,285.48 Q1076.81,287.12 1075.49,287.59 L1075.49,288.67 Q1077.28,288.26 1078.85,287.23 Z" fill="#111" stroke="none"/>
<text transform="translate(1083.72,292.85) scale(1.13,1)" text-anchor="middle" font-size="10.3" stroke-width="0.5">0</text>
<circle cx="1044.5" cy="464.9" r="9.5" fill="#fff" stroke="#111" stroke-width="1.5"/>
<text transform="translate(1044.50,469.30) scale(1.05,1)" text-anchor="middle" font-size="12.0" stroke-width="0.5">4</text>
<circle cx="1044.5" cy="488.9" r="9.5" fill="#fff" stroke="#111" stroke-width="1.5"/>
<path d="M1042.23,492.75 L1042.23,485.38" stroke="#111" stroke-width="1.29" fill="none" stroke-linecap="butt"/><path d="M1042.87,485.38 L1041.68,485.38 Q1040.83,487.02 1039.50,487.49 L1039.50,488.57 Q1041.29,488.16 1042.87,487.13 Z" fill="#111" stroke="none"/>
<path d="M1047.66,492.75 L1047.66,485.38" stroke="#111" stroke-width="1.29" fill="none" stroke-linecap="butt"/><path d="M1048.31,485.38 L1047.12,485.38 Q1046.26,487.02 1044.94,487.49 L1044.94,488.57 Q1046.73,488.16 1048.31,487.13 Z" fill="#111" stroke="none"/>
<circle cx="1044.5" cy="512.1" r="9.5" fill="#fff" stroke="#111" stroke-width="1.5"/>
<path d="M1041.71,515.95 L1041.71,508.58" stroke="#111" stroke-width="1.29" fill="none" stroke-linecap="butt"/><path d="M1042.35,508.58 L1041.16,508.58 Q1040.31,510.22 1038.99,510.69 L1038.99,511.77 Q1040.78,511.36 1042.35,510.33 Z" fill="#111" stroke="none"/>
<text transform="translate(1047.22,515.95) scale(1.13,1)" text-anchor="middle" font-size="10.3" stroke-width="0.5">2</text>
<circle cx="1044.5" cy="534.9" r="9.5" fill="#fff" stroke="#111" stroke-width="1.5"/>
<path d="M1041.71,538.75 L1041.71,531.38" stroke="#111" stroke-width="1.29" fill="none" stroke-linecap="butt"/><path d="M1042.35,531.38 L1041.16,531.38 Q1040.31,533.02 1038.99,533.49 L1038.99,534.57 Q1040.78,534.16 1042.35,533.13 Z" fill="#111" stroke="none"/>
<text transform="translate(1047.22,538.75) scale(1.13,1)" text-anchor="middle" font-size="10.3" stroke-width="0.5">3</text>
<circle cx="1044.5" cy="557.7" r="9.5" fill="#fff" stroke="#111" stroke-width="1.5"/>
<path d="M1041.71,561.55 L1041.71,554.18" stroke="#111" stroke-width="1.29" fill="none" stroke-linecap="butt"/><path d="M1042.35,554.18 L1041.16,554.18 Q1040.31,555.82 1038.99,556.29 L1038.99,557.37 Q1040.78,556.96 1042.35,555.93 Z" fill="#111" stroke="none"/>
<text transform="translate(1047.22,561.55) scale(1.13,1)" text-anchor="middle" font-size="10.3" stroke-width="0.5">4</text>
<circle cx="1044.5" cy="580.9" r="9.5" fill="#fff" stroke="#111" stroke-width="1.5"/>
<path d="M1041.71,584.75 L1041.71,577.38" stroke="#111" stroke-width="1.29" fill="none" stroke-linecap="butt"/><path d="M1042.35,577.38 L1041.16,577.38 Q1040.31,579.02 1038.99,579.49 L1038.99,580.57 Q1040.78,580.16 1042.35,579.13 Z" fill="#111" stroke="none"/>
<text transform="translate(1047.22,584.75) scale(1.13,1)" text-anchor="middle" font-size="10.3" stroke-width="0.5">5</text>
<circle cx="771" cy="500.4" r="9.5" fill="#fff" stroke="#111" stroke-width="1.5"/>
<path d="M768.21,504.25 L768.21,496.88" stroke="#111" stroke-width="1.29" fill="none" stroke-linecap="butt"/><path d="M768.85,496.88 L767.66,496.88 Q766.81,498.52 765.49,498.99 L765.49,500.07 Q767.28,499.66 768.85,498.63 Z" fill="#111" stroke="none"/>
<text transform="translate(773.72,504.25) scale(1.13,1)" text-anchor="middle" font-size="10.3" stroke-width="0.5">6</text>
<circle cx="794.8" cy="501" r="9.5" fill="#fff" stroke="#111" stroke-width="1.5"/>
<path d="M792.01,504.85 L792.01,497.48" stroke="#111" stroke-width="1.29" fill="none" stroke-linecap="butt"/><path d="M792.65,497.48 L791.46,497.48 Q790.61,499.12 789.29,499.59 L789.29,500.67 Q791.08,500.26 792.65,499.23 Z" fill="#111" stroke="none"/>
<text transform="translate(797.52,504.85) scale(1.13,1)" text-anchor="middle" font-size="10.3" stroke-width="0.5">7</text>
<circle cx="600.8" cy="604.3" r="9.5" fill="#fff" stroke="#111" stroke-width="1.5"/>
<path d="M601.09,608.70 L601.09,600.11" stroke="#111" stroke-width="1.50" fill="none" stroke-linecap="butt"/><path d="M601.84,600.11 L600.44,600.11 Q599.58,602.03 598.16,602.57 L598.16,603.83 Q600.08,603.35 601.84,602.15 Z" fill="#111" stroke="none"/>
<circle cx="727.1" cy="671.6" r="9.5" fill="#fff" stroke="#111" stroke-width="1.5"/>
<path d="M724.31,675.45 L724.31,668.08" stroke="#111" stroke-width="1.29" fill="none" stroke-linecap="butt"/><path d="M724.95,668.08 L723.76,668.08 Q722.91,669.72 721.59,670.19 L721.59,671.27 Q723.38,670.86 724.95,669.83 Z" fill="#111" stroke="none"/>
<text transform="translate(729.82,675.45) scale(1.13,1)" text-anchor="middle" font-size="10.3" stroke-width="0.5">8</text>
<circle cx="903.5" cy="680.5" r="9.5" fill="#fff" stroke="#111" stroke-width="1.5"/>
<path d="M900.71,684.35 L900.71,676.98" stroke="#111" stroke-width="1.29" fill="none" stroke-linecap="butt"/><path d="M901.35,676.98 L900.16,676.98 Q899.31,678.62 897.99,679.09 L897.99,680.17 Q899.78,679.76 901.35,678.73 Z" fill="#111" stroke="none"/>
<text transform="translate(906.22,684.35) scale(1.13,1)" text-anchor="middle" font-size="10.3" stroke-width="0.5">9</text>
<circle cx="903.5" cy="704.6" r="9.5" fill="#fff" stroke="#111" stroke-width="1.5"/>
<text transform="translate(900.26,708.45) scale(1.13,1)" text-anchor="middle" font-size="10.3" stroke-width="0.5">2</text>
<text transform="translate(906.74,708.45) scale(1.13,1)" text-anchor="middle" font-size="10.3" stroke-width="0.5">0</text>
<circle cx="519.3" cy="691.8" r="9.5" fill="#fff" stroke="#111" stroke-width="1.5"/>
<text transform="translate(516.58,695.65) scale(1.13,1)" text-anchor="middle" font-size="10.3" stroke-width="0.5">2</text>
<path d="M522.98,695.65 L522.98,688.28" stroke="#111" stroke-width="1.29" fill="none" stroke-linecap="butt"/><path d="M523.62,688.28 L522.44,688.28 Q521.58,689.92 520.26,690.39 L520.26,691.47 Q522.05,691.06 523.62,690.03 Z" fill="#111" stroke="none"/>
<circle cx="542.5" cy="691.8" r="9.5" fill="#fff" stroke="#111" stroke-width="1.5"/>
<text transform="translate(539.26,695.65) scale(1.13,1)" text-anchor="middle" font-size="10.3" stroke-width="0.5">2</text>
<text transform="translate(545.74,695.65) scale(1.13,1)" text-anchor="middle" font-size="10.3" stroke-width="0.5">2</text>
<circle cx="239.2" cy="649.2" r="9.5" fill="#fff" stroke="#111" stroke-width="1.5"/>
<text transform="translate(235.96,653.05) scale(1.13,1)" text-anchor="middle" font-size="10.3" stroke-width="0.5">2</text>
<text transform="translate(242.44,653.05) scale(1.13,1)" text-anchor="middle" font-size="10.3" stroke-width="0.5">3</text>
<circle cx="239.2" cy="671.9" r="9.5" fill="#fff" stroke="#111" stroke-width="1.5"/>
<text transform="translate(235.96,675.75) scale(1.13,1)" text-anchor="middle" font-size="10.3" stroke-width="0.5">2</text>
<text transform="translate(242.44,675.75) scale(1.13,1)" text-anchor="middle" font-size="10.3" stroke-width="0.5">4</text>
</g>
</svg>
</body></html>
